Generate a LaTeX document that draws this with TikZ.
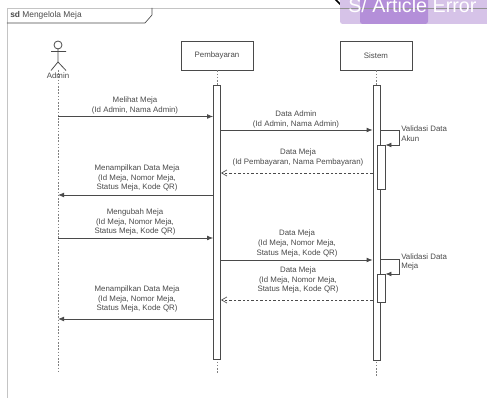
\documentclass[tikz,border=0pt]{standalone}
\usepackage{fontspec}
\setmainfont{Liberation Sans}
\usetikzlibrary{arrows.meta}
\definecolor{ink}{HTML}{4A4A4A}
\definecolor{framegray}{HTML}{C4C4C4}
\definecolor{wmlight}{HTML}{D6C3E8}
\definecolor{wmdark}{HTML}{B48FD9}
\tikzset{
  x=0.75pt,y=-0.75pt,
  lbl/.style={font=\fontsize{5.9pt}{7.2pt}\selectfont,text=ink,align=center,inner sep=0pt},
  lblleft/.style={lbl,align=left},
  headbox/.style={draw=ink,line width=0.6pt,fill=white,minimum width=54pt,minimum height=21.75pt,inner sep=0pt,font=\fontsize{5.9pt}{7.2pt}\selectfont,text=ink},
  activation/.style={draw=ink,line width=0.6pt,fill=white,inner sep=0pt,minimum width=5.25pt},
  life/.style={draw=ink!70,line width=0.6pt,dash pattern=on 1.2pt off 1.2pt},
  msg/.style={draw=ink,line width=0.6pt,-{Latex[length=4.5pt,width=3.6pt]}},
  ret/.style={draw=ink,line width=0.5pt,dash pattern=on 1.8pt off 1.5pt,-{Straight Barb[length=4pt,width=4.5pt]}},
  fig/.style={draw=ink,line width=0.6pt},
}
\begin{document}
\begin{tikzpicture}
\useasboundingbox (0,0) rectangle (487,398);
\begin{scope}
\clip (0,0) rectangle (487,398);
% frame
\draw[framegray,line width=0.6pt] (7,398) -- (7,8) -- (487,8);
\draw[ink,line width=0.5pt] (7,23) -- (145,23) -- (152,15) -- (152,8);
\node[lbl,anchor=west,font=\fontsize{6.3pt}{7.2pt}\selectfont] (title) at (10,15.5) {\textbf{sd} Mengelola Meja};
% lifeline heads
\node[headbox] (pay) at (217,55.5) {Pembayaran};
\node[headbox] (sys) at (376,55.5) {Sistem};
% actor
\coordinate (adm) at (58,70);
\coordinate (admEnd) at (58,373);
\draw[fig] (58,45) circle[radius=4];
\draw[fig] (58,49) -- (58,62) (51,51.5) -- (66,51.5) (51,70.5) -- (58,62) -- (66,70.5);
\draw[life] (adm) -- (admEnd);
\node[lbl,fill=none] (admlbl) at (58,76) {Admin};
% lifelines
\coordinate (payEnd) at (217,373);
\coordinate (sysEnd) at (376,377);
\draw[life] (pay.south) -- (payEnd);
\draw[life] (sys.south) -- (sysEnd);
% activations
\node[activation,minimum height=205.5pt] (payA) at (217,222) {};
\node[activation,minimum height=206.25pt] (sysA) at (376.5,222.5) {};
\node[activation,minimum width=6pt,minimum height=33pt] (sysB) at (381,167) {};
\node[activation,minimum width=6pt,minimum height=21pt] (sysC) at (381,288) {};
% helper points
\coordinate (a1) at (adm |- 0,116.5);
\coordinate (a2) at (adm |- 0,195);
\coordinate (a3) at (adm |- 0,238);
\coordinate (a4) at (adm |- 0,319);
% messages
\draw[msg] (a1) -- (payA.west |- a1);
\draw[msg] (payA.east |- 0,130) -- (sysA.west |- 0,130);
\draw[msg] (sysA.east |- 0,130) -- (399,130) -- (399,145) -- (sysB.east |- 0,145);
\draw[ret] (sysA.west |- 0,173) -- (payA.east |- 0,173);
\draw[msg] (payA.west |- a2) -- (a2);
\draw[msg] (a3) -- (payA.west |- a3);
\draw[msg] (payA.east |- 0,260) -- (sysA.west |- 0,260);
\draw[msg] (sysA.east |- 0,259) -- (399,259) -- (399,274) -- (sysC.east |- 0,274);
\draw[ret] (sysA.west |- 0,300) -- (payA.east |- 0,300);
\draw[msg] (payA.west |- a4) -- (a4);
% labels
\node[lbl] (l1) at (135,105.5) {Melihat Meja\\(Id Admin, Nama Admin)};
\node[lbl] (l2) at (296,119.5) {Data Admin\\(Id Admin, Nama Admin)};
\node[lblleft,anchor=west] (l3) at (401,133.5) {Validasi Data\\Akun};
\node[lbl] (l4) at (298,157.5) {Data Meja\\(Id Pembayaran, Nama Pembayaran)};
\node[lbl] (l5) at (137,178) {Menampilkan Data Meja\\(Id Meja, Nomor Meja,\\Status Meja, Kode QR)};
\node[lbl] (l6) at (135,222) {Mengubah Meja\\(Id Meja, Nomor Meja,\\Status Meja, Kode QR)};
\node[lbl] (l7) at (297,243.5) {Data Meja\\(Id Meja, Nomor Meja,\\Status Meja, Kode QR)};
\node[lblleft,anchor=west] (l8) at (401,262) {Validasi Data\\Meja};
\node[lbl] (l9) at (298,280) {Data Meja\\(Id Meja, Nomor Meja,\\Status Meja, Kode QR)};
\node[lbl] (l10) at (137,299) {Menampilkan Data Meja\\(Id Meja, Nomor Meja,\\Status Meja, Kode QR)};
% overlay
\draw[black,line width=1.3pt] (335,-1) -- (341,5);
\draw[black,line width=1.2pt] (359.5,-1) -- (359.5,4);
\fill[wmlight,rounded corners=2pt] (340,-5) rectangle (492,24);
\fill[wmdark,rounded corners=2pt] (360,-5) rectangle (428,24);
\draw[ink!60,line width=0.5pt] (340,8) -- (487,8);
\node[anchor=base west,inner sep=0pt,text=white,font=\fontsize{14.8pt}{16pt}\selectfont] (wm) at (348,13) {S/ Article Error};
\end{scope}
\end{tikzpicture}
\end{document}
